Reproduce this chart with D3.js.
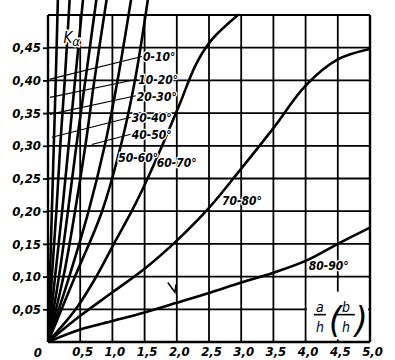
<!DOCTYPE html>
<html>
<head>
<meta charset="utf-8">
<script src="https://cdn.jsdelivr.net/npm/d3@7"></script>
<style>
	body { margin: 0; background: #fff; }
	svg { display: block; }
	.axis text, .lbl { font-family: 'DejaVu Sans Condensed', 'DejaVu Sans', sans-serif; font-style: italic; font-weight: bold; fill: #000; }
</style>
</head>
<body>
<div id="chart"></div>
<script>

/***********************************************************************/
//Data  (a/h , K_alpha)
/***********************************************************************/
const xTicks = [0.5, 1.0, 1.5, 2.0, 2.5, 3.0, 3.5, 4.0, 4.5, 5.0]
const yTicks = [0.05, 0.10, 0.15, 0.20, 0.25, 0.30, 0.35, 0.40, 0.45]

const angleLabels = ['0-10°', '10-20°', '20-30°', '30-40°', '40-50°', '50-60°', '60-70°', '70-80°', '80-90°']

const curve0_10  = [[0, 0], [0.03, 0.1], [0.06, 0.2], [0.09, 0.3], [0.12, 0.4], [0.155, 0.53]]
const curve10_20 = [[0, 0], [0.06, 0.1], [0.13, 0.2], [0.19, 0.3], [0.26, 0.4], [0.34, 0.53]]
const curve20_30 = [[0, 0], [0.11, 0.1], [0.22, 0.2], [0.32, 0.3], [0.42, 0.4], [0.55, 0.53]]
const curve30_40 = [[0, 0], [0.17, 0.1], [0.31, 0.2], [0.44, 0.3], [0.58, 0.4], [0.76, 0.53]]
const curve40_50 = [[0, 0], [0.24, 0.1], [0.42, 0.2], [0.58, 0.3], [0.72, 0.4], [0.92, 0.53]]
const curve45    = [[0, 0], [0.33, 0.1], [0.63, 0.2], [0.88, 0.3], [1.08, 0.4], [1.3, 0.53]]
const curve50_60 = [[0, 0], [0.42, 0.1], [0.84, 0.2], [1.13, 0.3], [1.35, 0.4], [1.56, 0.53]]
const curve60_70 = [[0, 0], [0.43, 0.05], [0.75, 0.1], [1.05, 0.155], [1.3, 0.2], [1.5, 0.24], [1.75, 0.295],
	[2.05, 0.365], [2.3, 0.425], [2.55, 0.463], [2.95, 0.5]]
const curve70_80 = [[0, 0], [0.5, 0.04], [1.0, 0.076], [1.5, 0.112], [2.0, 0.155], [2.5, 0.205], [3.0, 0.265],
	[3.5, 0.327], [4.0, 0.392], [4.5, 0.432], [5.0, 0.448]]
const curve80_90 = [[0, 0], [0.5, 0.019], [1.0, 0.032], [1.5, 0.045], [2.0, 0.06], [2.5, 0.075], [3.0, 0.091],
	[3.5, 0.106], [4.0, 0.124], [4.5, 0.15], [5.0, 0.175]]

const curves = [curve0_10, curve10_20, curve20_30, curve30_40, curve40_50, curve45, curve50_60, curve60_70, curve70_80, curve80_90]

// where each label sits and where its leader ends (in chart units)
const labelSpots = [
	{ at: [1.475, 0.429], leader: [0.03, 0.402] },
	{ at: [1.40, 0.394],  leader: [0.03, 0.374] },
	{ at: [1.38, 0.369],  leader: [0.03, 0.348] },
	{ at: [1.30, 0.336],  leader: [0.06, 0.313] },
	{ at: [1.30, 0.310],  leader: [0.68, 0.302] },
	{ at: [1.09, 0.275] },
	{ at: [1.69, 0.267] },
	{ at: [2.70, 0.210] },
	{ at: [4.05, 0.110] }
]

/***********************************************************************/
//Plot Area
/***********************************************************************/
const width = 395
const height = 360
const margin = { left: 48, right: 25, top: 15, bottom: 18 }

const svg = d3.select('#chart')
	.append('svg')
	.attr('width', width)
	.attr('height', height)

const xScale = d3.scaleLinear()
	.domain([0, 5])
	.range([margin.left, width - margin.right])

const yScale = d3.scaleLinear()
	.domain([0, 0.5])
	.range([height - margin.bottom, margin.top])

/***********************************************************************/
//Grid
/***********************************************************************/
const gGrid = svg.append('g').attr('class', 'grid')

gGrid.selectAll('.vline')
	.data([0].concat(xTicks))
	.join('line')
	.attr('x1', d => xScale(d))
	.attr('x2', d => xScale(d))
	.attr('y1', yScale(0))
	.attr('y2', yScale(0.5))
	.attr('stroke', '#000')
	.attr('stroke-width', d => d === 0 || d === 5 ? 2.4 : 1.8)

gGrid.selectAll('.hline')
	.data([0].concat(yTicks, [0.5]))
	.join('line')
	.attr('x1', xScale(0))
	.attr('x2', xScale(5))
	.attr('y1', d => yScale(d))
	.attr('y2', d => yScale(d))
	.attr('stroke', '#000')
	.attr('stroke-width', d => d === 0 ? 2.6 : 1.8)

/***********************************************************************/
//Axes
/***********************************************************************/
const commaFormat = f => d => d3.format(f)(d).replace('.', ',')

const yAxis = d3.axisLeft(yScale)
	.tickValues(yTicks)
	.tickSize(5)
	.tickPadding(2)
	.tickFormat(commaFormat('.2f'))

const xAxis = d3.axisBottom(xScale)
	.tickValues(xTicks)
	.tickSize(0)
	.tickPadding(5)
	.tickFormat(commaFormat('.1f'))

const yAxisG = svg.append('g').attr('class', 'axis')
	.attr('transform', 'translate(' + margin.left + ',0)')
	.call(yAxis)

const xAxisG = svg.append('g').attr('class', 'axis')
	.attr('transform', 'translate(0,' + yScale(0) + ')')
	.call(xAxis)

svg.selectAll('.axis .domain').remove()
svg.selectAll('.axis text').style('font-size', '13px')
yAxisG.selectAll('.tick line').attr('stroke-width', 1.8)
xAxisG.selectAll('.tick text').attr('dx', 2)

svg.append('text')
	.attr('class', 'lbl')
	.attr('x', xScale(0) - 6)
	.attr('y', yScale(0) + 15)
	.attr('text-anchor', 'end')
	.style('font-size', '13px')
	.text('0')

/***********************************************************************/
//Curves
/***********************************************************************/
svg.append('clipPath')
	.attr('id', 'clip')
	.append('rect')
	.attr('x', xScale(0))
	.attr('y', 0)
	.attr('width', xScale(5) - xScale(0))
	.attr('height', yScale(0))

const line = d3.line()
	.curve(d3.curveCatmullRom.alpha(0.5))
	.x(d => xScale(d[0]))
	.y(d => yScale(d[1]))

svg.append('g')
	.attr('clip-path', 'url(#clip)')
	.selectAll('path')
	.data(curves)
	.join('path')
	.attr('fill', 'none')
	.attr('stroke', '#000')
	.attr('stroke-width', 2.6)
	.attr('stroke-linecap', 'round')
	.attr('d', line)

/***********************************************************************/
//Labels
/***********************************************************************/
const gLabels = svg.append('g')

gLabels.selectAll('.leader')
	.data(labelSpots.filter(s => s.leader))
	.join('line')
	.attr('x1', d => xScale(d.at[0]) - 1)
	.attr('y1', d => yScale(d.at[1]) - 5)
	.attr('x2', d => xScale(d.leader[0]))
	.attr('y2', d => yScale(d.leader[1]))
	.attr('stroke', '#000')
	.attr('stroke-width', 1.1)

gLabels.selectAll('.angle')
	.data(angleLabels)
	.join('text')
	.attr('class', 'lbl')
	.attr('x', (d, i) => xScale(labelSpots[i].at[0]))
	.attr('y', (d, i) => yScale(labelSpots[i].at[1]))
	.style('font-size', '12px')
	.attr('stroke', '#fff')
	.attr('stroke-width', 2.5)
	.attr('paint-order', 'stroke')
	.text(d => d)

// K alpha
const kLabel = svg.append('text')
	.attr('class', 'lbl')
	.attr('x', xScale(0.24))
	.attr('y', yScale(0.457))
	.style('font-size', '15px')
	.style('font-weight', 'normal')
	.attr('stroke', '#fff')
	.attr('stroke-width', 3)
	.attr('paint-order', 'stroke')
kLabel.append('tspan').text('K')
kLabel.append('tspan').attr('dy', 3).style('font-size', '13px').text('α')

// a/h (b/h) box
const gTitle = svg.append('g')
const tx = xScale(4.02)
const ty = yScale(0.077)

gTitle.append('rect')
	.attr('x', tx)
	.attr('y', ty)
	.attr('width', xScale(4.97) - tx)
	.attr('height', yScale(0.004) - ty)
	.attr('fill', '#fff')

const frac = (x0, top, w, num) => {
	gTitle.append('text').attr('class', 'lbl')
		.attr('x', x0 + w / 2).attr('y', top + 11)
		.attr('text-anchor', 'middle')
		.style('font-size', '14px').style('font-weight', 'normal')
		.text(num)
	gTitle.append('line')
		.attr('x1', x0).attr('x2', x0 + w)
		.attr('y1', top + 14).attr('y2', top + 14)
		.attr('stroke', '#000').attr('stroke-width', 1.6)
	gTitle.append('text').attr('class', 'lbl')
		.attr('x', x0 + w / 2).attr('y', top + 31)
		.attr('text-anchor', 'middle')
		.style('font-size', '14px').style('font-weight', 'normal')
		.text('h')
}
frac(tx + 7, ty + 9, 12, 'a')
frac(tx + 30, ty + 9, 18, 'b')

gTitle.selectAll('.paren')
	.data(['(', ')'])
	.join('text')
	.attr('class', 'lbl')
	.attr('x', (d, i) => i === 0 ? tx + 22 : tx + 48)
	.attr('y', ty + 40)
	.style('font-size', '36px')
	.style('font-weight', 'normal')
	.text(d => d)

// small stray mark near the 80-90 curve
svg.append('path')
	.attr('d', d3.line()([[xScale(1.86), yScale(0.091)], [xScale(1.97), yScale(0.076)], [xScale(1.99), yScale(0.088)]]))
	.attr('fill', 'none')
	.attr('stroke', '#000')
	.attr('stroke-width', 1.6)

</script>
</body>
</html>
